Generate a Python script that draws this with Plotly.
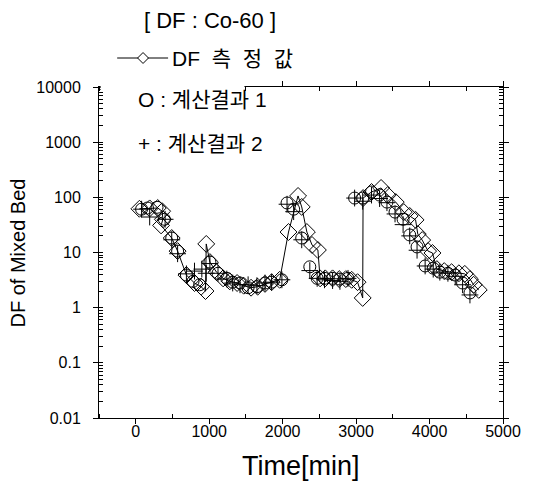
import plotly.graph_objects as go

# Measured DF (diamonds, joined by line)
meas_x = [50, 190, 300, 360, 370, 345, 490, 570, 690, 800, 890, 950, 960, 1010, 1100, 1190,
          1280, 1380, 1470, 1570, 1660, 1760, 1850, 1960, 2080, 2210, 2260, 2330, 2400, 2480,
          2510, 2580, 2680, 2770, 2860, 2940, 3020, 3090, 3095, 3210, 3340, 3430, 3540, 3650,
          3730, 3810, 3840, 3900, 3980, 4040, 4100, 4200, 4300, 4400, 4480, 4550, 4600, 4670]
meas_y = [62, 63, 64, 56, 40, 31, 18.3, 10.6, 3.9, 2.8, 2.4, 2.0, 14.3, 6.7, 4.4, 3.4,
          3.0, 2.8, 2.5, 2.3, 2.4, 2.7, 2.9, 3.2, 23.5, 106, 67, 23.5, 13.7, 11.1,
          3.4, 3.4, 3.4, 3.3, 3.3, 3.2, 2.9, 1.5, 97, 125, 148, 110, 82, 54,
          46, 39, 21.6, 16.8, 10.6, 9.8, 5.0, 4.6, 4.4, 4.2, 4.1, 3.3, 2.6, 2.1]

# Calculation result 1 (circles)
calc1_x = [80, 160, 290, 390, 490, 570, 690, 780, 870, 1010, 1120, 1240, 1320, 1420, 1530,
           1650, 1760, 1850, 1990, 2060, 2150, 2260, 2370, 2470, 2570, 2680, 2780, 2890,
           2980, 3090, 3210, 3320, 3420, 3530, 3640, 3730, 3830, 3940, 4050, 4140, 4250,
           4350, 4450, 4550]
calc1_y = [61, 64, 66, 40, 18.3, 10.6, 3.9, 3.0, 2.6, 6.7, 4.2, 3.4, 2.9, 2.8, 2.3,
           2.4, 2.8, 2.9, 3.2, 79, 61, 18.3, 5.5, 3.4, 3.4, 3.4, 3.3, 3.4,
           97, 97, 125, 110, 82, 54, 40, 20.8, 12.6, 5.7, 5.2, 4.4, 4.2,
           3.9, 2.8, 1.85]

# Calculation result 2 (plus)
calc2_x = [80, 190, 400, 490, 570, 690, 800, 900, 960, 1010, 1120, 1240, 1320, 1420, 1530,
           1650, 1760, 1850, 1990, 2060, 2150, 2260, 2370, 2470, 2570, 2680, 2780, 2890,
           2980, 3090, 3210, 3320, 3420, 3530, 3640, 3730, 3830, 3940, 4050, 4140, 4250,
           4350, 4450, 4550]
calc2_y = [61, 44, 40, 17, 9.5, 4.1, 4.6, 5.0, 4.2, 6.3, 4.2, 3.3, 2.8, 2.6, 2.6,
           2.5, 2.8, 2.9, 3.2, 75, 55, 17, 4.7, 3.4, 3.2, 3.1, 3.0, 3.4,
           97, 85, 110, 95, 80, 50, 32, 20, 11, 5.7, 5.0, 4.4, 4.2,
           3.7, 2.6, 1.7]

x_ticks = [0, 1000, 2000, 3000, 4000, 5000]
y_ticks = [0.01, 0.1, 1, 10, 100, 1000, 10000]
y_tick_labels = ["0.01", "0.1", "1", "10", "100", "1000", "10000"]

LAT = "Liberation Sans, Arial, sans-serif"
KR = "Liberation Sans, Noto Sans CJK KR, sans-serif"

fig = go.Figure()
fig.add_trace(go.Scatter(x=meas_x, y=meas_y, mode="lines+markers",
                         line=dict(color="black", width=1),
                         marker=dict(symbol="diamond-open", size=13, color="black",
                                     line=dict(width=1, color="black")),
                         showlegend=False))
fig.add_trace(go.Scatter(x=calc1_x, y=calc1_y, mode="markers",
                         marker=dict(symbol="circle-open", size=12, color="black",
                                     line=dict(width=1, color="black")),
                         showlegend=False))
fig.add_trace(go.Scatter(x=calc2_x, y=calc2_y, mode="markers",
                         marker=dict(symbol="cross-thin-open", size=12, color="black",
                                     line=dict(width=1, color="black")),
                         showlegend=False))

fig.update_layout(
    width=545, height=496,
    margin=dict(l=99, r=42, t=87, b=78),
    paper_bgcolor="white", plot_bgcolor="white",
    font=dict(family=LAT, color="black"),
    xaxis=dict(range=[-500, 5000], tickvals=x_ticks, ticks="outside", ticklen=5,
               tickcolor="black", showline=True, linecolor="black", linewidth=1,
               mirror="allticks", showgrid=False, zeroline=False,
               tickfont=dict(size=16, family=LAT), ticklabelstandoff=-6,
               minor=dict(tickvals=[-500, 500, 1500, 2500, 3500, 4500], ticks="inside",
                          ticklen=4, tickcolor="black")),
    yaxis=dict(type="log", range=[-2, 4], tickvals=y_ticks, ticktext=y_tick_labels,
               ticks="outside", ticklen=5, tickcolor="black", showline=True,
               linecolor="black", linewidth=1, mirror="allticks", showgrid=False,
               zeroline=False, tickfont=dict(size=16, family=LAT), ticklabelstandoff=9,
               minor=dict(ticks="inside", ticklen=4, tickcolor="black", dtick="D1")),
)

# cover missing top-left frame portion
fig.add_shape(type="rect", xref="paper", yref="paper", x0=0.004, x1=0.36, y0=0.985, y1=1.02,
              fillcolor="white", line=dict(width=0), layer="above")

# legend-like sample: line with diamond
fig.add_shape(type="line", xref="paper", yref="paper", x0=0.045, x1=0.171, y0=1.0876, y1=1.0876,
              line=dict(color="black", width=1))
dx, dy, cx, cy = 0.0135, 0.0165, 0.109, 1.0876
fig.add_shape(type="path", xref="paper", yref="paper",
              path=f"M {cx-dx},{cy} L {cx},{cy+dy} L {cx+dx},{cy} L {cx},{cy-dy} Z",
              fillcolor="white", line=dict(color="black", width=1))

ann = [
    dict(text="[ DF : Co-60 ]", x=0.275, y=1.2024, xanchor="center", size=22),
    dict(text="DF  측  정  값", x=0.176, y=1.0876, xanchor="left", size=21),
    dict(text="O : 계산결과 1", x=0.092, y=0.9608, xanchor="left", size=21),
    dict(text="+ : 계산결과 2", x=0.092, y=0.8308, xanchor="left", size=21),
]
for a in ann:
    fig.add_annotation(text=a["text"], x=a["x"], y=a["y"], xref="paper", yref="paper",
                       xanchor=a["xanchor"], yanchor="middle", showarrow=False,
                       font=dict(size=a["size"], family=KR, color="black"))

fig.add_annotation(text="Time[min]", x=0.5, y=-0.145, xref="paper", yref="paper",
                   xanchor="center", yanchor="middle", showarrow=False,
                   font=dict(size=27, family=LAT, color="black"))
fig.add_annotation(text="DF of Mixed Bed", x=-0.2005, y=0.5, xref="paper", yref="paper",
                   xanchor="center", yanchor="middle", textangle=-90, showarrow=False,
                   font=dict(size=20, family=LAT, color="black"))

fig.write_html("out.html")
